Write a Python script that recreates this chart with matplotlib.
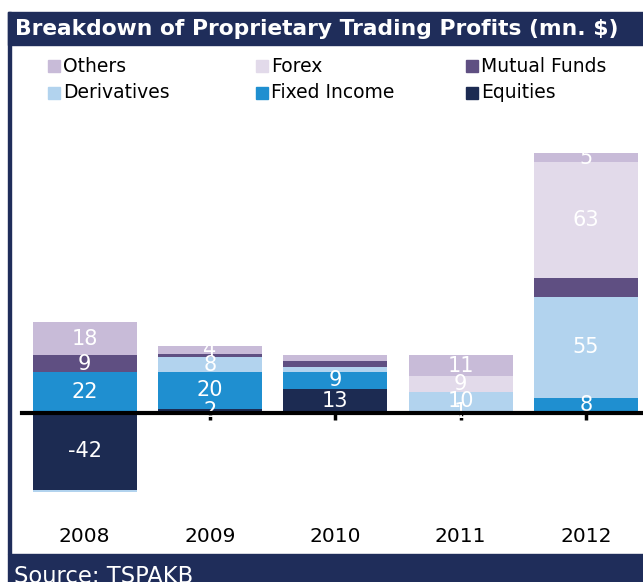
import matplotlib
matplotlib.use("Agg")
import matplotlib.pyplot as plt
import matplotlib.transforms as mtransforms
from matplotlib.patches import Rectangle
import numpy as np

plt.rcParams['font.family'] = ['DejaVu Sans']

categories = ['2008', '2009', '2010', '2011', '2012']
series_names = ['Equities', 'Fixed Income', 'Derivatives', 'Mutual Funds', 'Forex', 'Others']
equities = [-42, 2, 13, 0, 0]
fixed_income = [22, 20, 9, 1, 8]
derivatives = [-1, 8, 3, 10, 55]
mutual_funds = [9, 2, 3, -1, 10]
forex = [0, 0, 0, 9, 63]
others = [18, 4, 3, 11, 5]
# which data labels are displayed
show_equities = [True, True, True, False, False]
show_fixed_income = [True, True, True, True, True]
show_derivatives = [False, True, False, True, True]
show_mutual_funds = [True, False, False, False, False]
show_forex = [False, False, False, True, True]
show_others = [True, True, False, True, True]

colors = ['#1C2B52', '#1F8FD0', '#B2D3EE', '#5F4F82', '#E2DAEA', '#C8BBD8']
navy = '#1F2D5A'

values = [equities, fixed_income, derivatives, mutual_funds, forex, others]
shows = [show_equities, show_fixed_income, show_derivatives, show_mutual_funds, show_forex, show_others]

W, H = 643, 582
fig = plt.figure(figsize=(W / 100, H / 100), dpi=100)

def fx(px):
    return px / W

def fy(py):
    return 1 - py / H

# frame pieces
fig.patches.append(Rectangle((fx(8), fy(45)), fx(643) - fx(8), fy(12) - fy(45),
                             transform=fig.transFigure, color=navy, zorder=0))
fig.patches.append(Rectangle((fx(8), fy(554)), fx(11) - fx(8), fy(12) - fy(554),
                             transform=fig.transFigure, color=navy, zorder=0))
fig.patches.append(Rectangle((fx(8), fy(582)), fx(643) - fx(8), fy(554) - fy(582),
                             transform=fig.transFigure, color=navy, zorder=0))
fig.text(fx(15), fy(29), 'Breakdown of Proprietary Trading Profits (mn. $)',
         color='white', fontsize=15.7, fontweight='bold', va='center', ha='left')
fig.text(fx(14), fy(565), 'Source: TSPAKB', color='white', fontsize=16.3,
         va='top', ha='left')

# axes
ax_left, ax_right = 22, 643
ax_top, ax_bot = 115, 520
ax = fig.add_axes([fx(ax_left), fy(ax_bot), fx(ax_right) - fx(ax_left), fy(ax_top) - fy(ax_bot)])
x = np.arange(len(categories))
width = 0.83
pos_base = np.zeros(len(categories))
neg_base = np.zeros(len(categories))
for name, vals, col, show in zip(series_names, values, colors, shows):
    v = np.array(vals, dtype=float)
    bottoms = np.where(v >= 0, pos_base, neg_base)
    ax.bar(x, v, width, bottom=bottoms, color=col, label=name, zorder=2)
    for i in range(len(v)):
        if show[i] and v[i] != 0:
            ax.text(x[i], bottoms[i] + v[i] / 2, f'{int(v[i])}', color='white',
                    ha='center', va='center', fontsize=15, zorder=3)
    pos_base = pos_base + np.where(v >= 0, v, 0)
    neg_base = neg_base + np.where(v < 0, v, 0)

ax.set_xlim(-0.5, (ax_right - 84) / 125.5)
ax.set_ylim(-58.4, 161.7)
for s in ['top', 'right', 'left']:
    ax.spines[s].set_visible(False)
ax.spines['bottom'].set_position(('data', 0))
ax.spines['bottom'].set_linewidth(3)
ax.spines['bottom'].set_color('black')
ax.spines['bottom'].set_zorder(4)
ax.set_yticks([])
ax.set_xticks(x)
ax.set_xticklabels([])
ax.tick_params(axis='x', length=5, width=2.5, direction='out', color='black')
trans = mtransforms.blended_transform_factory(ax.transData, ax.transAxes)
for i, c in enumerate(categories):
    ax.text(x[i], (ax_bot - 537) / (ax_bot - ax_top), c, transform=trans,
            ha='center', va='center', fontsize=14.5, color='black')

# legend (manual, reverse series order)
leg_order = list(range(len(series_names)))[::-1]
col_x = [48, 256, 466]
row_y = [66, 93]
for k, idx in enumerate(leg_order):
    r, c = divmod(k, 3)
    sx, sy = col_x[c], row_y[r]
    fig.patches.append(Rectangle((fx(sx), fy(sy + 6)), fx(12), 12 / H,
                                 transform=fig.transFigure, color=colors[idx]))
    fig.text(fx(sx + 15), fy(sy), series_names[idx], fontsize=13.5,
             va='center', ha='left', color='black')

fig.savefig('out.png', dpi=100)
